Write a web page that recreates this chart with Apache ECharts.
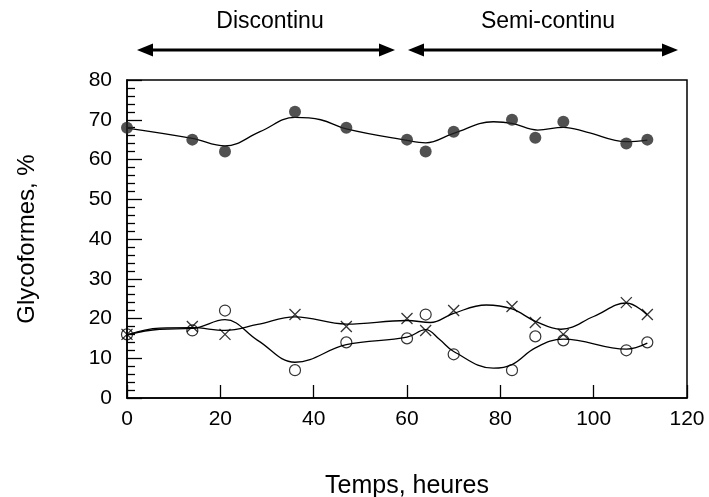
<!DOCTYPE html>
<html>
<head>
<meta charset="utf-8">
<script src="https://cdn.jsdelivr.net/npm/echarts@6/dist/echarts.min.js"></script>
<style>
html,body{margin:0;padding:0;background:#fff;}
#chart{width:709px;height:497px;}
</style>
</head>
<body>
<div id="chart"></div>
<script>
// Measured points
const times = [0, 14, 21, 36, 47, 60, 64, 70, 82.5, 87.5, 93.5, 107, 111.5];
const filledVals = [68, 65, 62, 72, 68, 65, 62, 67, 70, 65.5, 69.5, 64, 65];
const openVals = [16, 17, 22, 7, 14, 15, 21, 11, 7, 15.5, 14.5, 12, 14];
const crossVals = [16, 18, 16, 21, 18, 20, 17, 22, 23, 19, 16, 24, 21];

// Fitted smooth curves
const filledFitX = [0, 14, 21, 28.5, 36, 41.5, 47, 60, 64, 70, 78.5, 82.5, 88, 93.5, 98.5, 107, 111.5];
const filledFitY = [67.9, 65.3, 63.4, 67, 70.6, 70, 67.7, 64.8, 64.2, 66.6, 69.5, 69.1, 67.4, 68.1, 66.9, 64.5, 64.9];
const openFitX = [0, 7, 14, 21, 28, 36, 47, 60, 64, 67, 70, 78.5, 82.5, 87.5, 93.5, 107, 111.5];
const openFitY = [15.9, 17.3, 17.5, 19.7, 14.5, 9, 13.4, 15.3, 17.2, 14.7, 11.7, 7.5, 8.4, 12.6, 14.8, 12.3, 13.8];
const crossFitX = [0, 7, 14, 21, 28, 36, 47, 60, 65, 70, 77, 82.5, 87.5, 93, 100, 107, 111.5];
const crossFitY = [15.9, 17.6, 17.7, 17, 18.5, 20.4, 18.6, 19.5, 19, 21.3, 23.4, 22.4, 19.3, 17.3, 20.5, 23.9, 20.9];

const xTicks = [0, 20, 40, 60, 80, 100, 120];
const yTicks = [0, 10, 20, 30, 40, 50, 60, 70, 80];

const zip = (xs, ys) => xs.map((x, i) => [x, ys[i]]);
const FONT = '"Liberation Sans", Arial, sans-serif';

const chart = echarts.init(document.getElementById('chart'), null, {renderer: 'canvas'});

function arrow(x1, x2, y) {
  const hl = 16, hh = 6.5;
  return [
    {type: 'line', shape: {x1: x1 + hl - 2, y1: y, x2: x2 - hl + 2, y2: y}, style: {stroke: '#000', lineWidth: 3}},
    {type: 'polygon', shape: {points: [[x1, y], [x1 + hl, y - hh], [x1 + hl, y + hh]]}, style: {fill: '#000'}},
    {type: 'polygon', shape: {points: [[x2, y], [x2 - hl, y - hh], [x2 - hl, y + hh]]}, style: {fill: '#000'}}
  ];
}

const lineStyle = {color: '#000', width: 1.3};
const option = {
  animation: false,
  backgroundColor: '#fff',
  grid: {left: 127, right: 22, top: 80, bottom: 99, show: true, borderColor: '#000', borderWidth: 1.5,
         containLabel: false, outerBoundsMode: 'none'},
  xAxis: {
    type: 'value', min: xTicks[0], max: xTicks[xTicks.length - 1], interval: 20,
    name: 'Temps, heures', nameLocation: 'middle', nameGap: 76,
    nameTextStyle: {fontFamily: FONT, fontSize: 25, color: '#000'},
    axisLine: {lineStyle: {color: '#000', width: 1.5}},
    axisTick: {inside: true, length: 13, lineStyle: {color: '#000', width: 1.3}},
    axisLabel: {fontFamily: FONT, fontSize: 21, color: '#000', margin: 11},
    splitLine: {show: false}
  },
  yAxis: {
    type: 'value', min: yTicks[0], max: yTicks[yTicks.length - 1], interval: 10,
    name: 'Glycoformes, %', nameLocation: 'middle', nameGap: 88,
    nameTextStyle: {fontFamily: FONT, fontSize: 24, color: '#000'},
    axisLine: {lineStyle: {color: '#000', width: 1.5}},
    axisTick: {inside: true, length: 15, lineStyle: {color: '#000', width: 1.3}},
    minorTick: {show: true, splitNumber: 5, length: 8, lineStyle: {color: '#000', width: 1.3}},
    axisLabel: {fontFamily: FONT, fontSize: 21, color: '#000', margin: 15},
    splitLine: {show: false}
  },
  graphic: [
    {type: 'text', style: {text: 'Discontinu', x: 270, y: 22, align: 'center', verticalAlign: 'middle', font: '23px ' + FONT, fill: '#000'}},
    {type: 'text', style: {text: 'Semi-continu', x: 548, y: 22, align: 'center', verticalAlign: 'middle', font: '23px ' + FONT, fill: '#000'}},
    ...arrow(137, 395, 50),
    ...arrow(408, 678, 50)
  ],
  series: [
    {type: 'line', data: zip(filledFitX, filledFitY), smooth: 0.4, showSymbol: false, lineStyle: lineStyle, z: 2},
    {type: 'line', data: zip(openFitX, openFitY), smooth: 0.4, showSymbol: false, lineStyle: lineStyle, z: 2},
    {type: 'line', data: zip(crossFitX, crossFitY), smooth: 0.4, showSymbol: false, lineStyle: lineStyle, z: 2},
    {type: 'scatter', data: zip(times, filledVals), symbol: 'circle', symbolSize: 12,
     itemStyle: {color: '#262626'}, z: 3},
    {type: 'scatter', data: zip(times, openVals), symbol: 'circle', symbolSize: 11,
     itemStyle: {color: 'rgba(0,0,0,0)', borderColor: '#000', borderWidth: 1.2}, z: 3},
    {type: 'scatter', data: zip(times, crossVals), symbol: 'path://M0,0L10,10M10,0L0,10', symbolSize: 11,
     itemStyle: {color: 'rgba(0,0,0,0)', borderColor: '#000', borderWidth: 1.3}, z: 3}
  ]
};
chart.setOption(option);
</script>
</body>
</html>
